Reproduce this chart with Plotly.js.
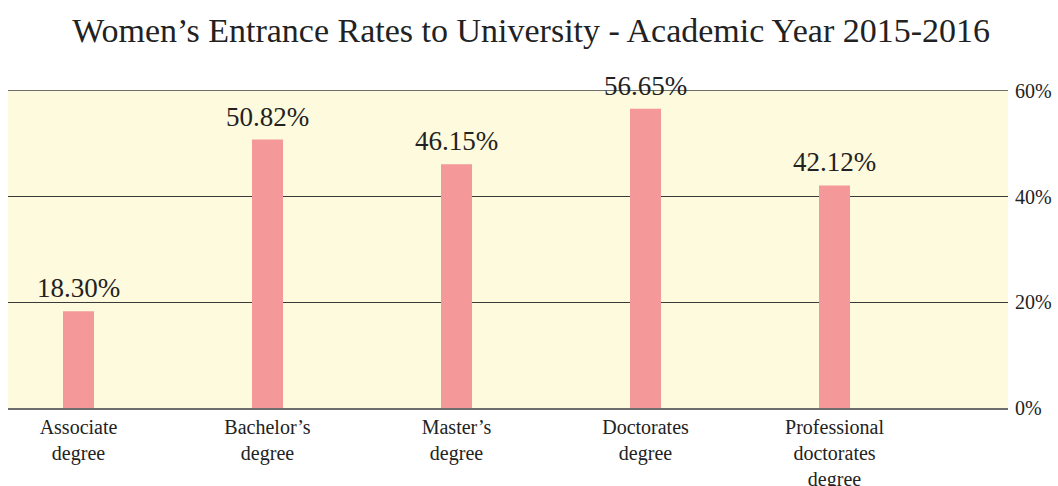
<!DOCTYPE html>
<html>
<head>
<meta charset="utf-8">
<script src="https://cdn.plot.ly/plotly-3.0.1.min.js"></script>
<style>html,body{margin:0;padding:0;background:#fff;}#chart{width:1058px;height:486px;}</style>
</head>
<body>
<div id="chart"></div>
<script>
const categories = ["Associate<br>degree", "Bachelor’s<br>degree", "Master’s<br>degree", "Doctorates<br>degree", "Professional<br>doctorates<br>degree"];
const rates = [18.30, 50.82, 46.15, 56.65, 42.12];
const labels = ["18.30%", "50.82%", "46.15%", "56.65%", "42.12%"];
const yTicks = [0, 20, 40, 60];
const yTickText = ["0%", "20%", "40%", "60%"];

const serif = "Liberation Serif, Times New Roman, serif";
const xs = categories.map((c, i) => i);

const annotations = rates.map((v, i) => ({
  x: xs[i], y: v, xref: "x", yref: "y",
  text: labels[i], showarrow: false,
  xanchor: "center", yanchor: "bottom", yshift: 6,
  font: {family: serif, size: 27, color: "#222"}
}));

Plotly.newPlot("chart", [{
  type: "bar",
  x: xs,
  y: rates,
  cliponaxis: false,
  width: 0.164,
  marker: {color: "#f4989a"},
  hoverinfo: "none"
}], {
  width: 1058,
  height: 486,
  margin: {l: 8, r: 50, t: 91, b: 78, pad: 0},
  paper_bgcolor: "#ffffff",
  plot_bgcolor: "#fefadd",
  showlegend: false,
  annotations: annotations,
  title: {text: "Women’s Entrance Rates to University - Academic Year 2015-2016", font: {family: serif, size: 34, color: "#222"}, x: 0.502, xanchor: "center", y: 0.962, yanchor: "top"},
  xaxis: {
    range: [-0.373, 4.918],
    tickmode: "array",
    tickvals: xs,
    ticktext: categories,
    tickfont: {family: serif, size: 20, color: "#222"},
    showgrid: false,
    zeroline: false,
    showline: true,
    mirror: true,
    linecolor: "#6e6e6e",
    linewidth: 1.5,
    ticks: "",
    fixedrange: true
  },
  yaxis: {
    side: "right",
    range: [0, 60],
    tickmode: "array",
    tickvals: yTicks,
    ticktext: yTickText,
    tickfont: {family: serif, size: 20, color: "#222"},
    showgrid: true,
    gridcolor: "#3a3a3a",
    gridwidth: 1,
    zeroline: false,
    showline: false,
    ticks: "",
    ticklabelstandoff: 6,
    fixedrange: true
  },
  font: {family: serif, color: "#222"}
}, {displayModeBar: false, staticPlot: true});
</script>
</body>
</html>
